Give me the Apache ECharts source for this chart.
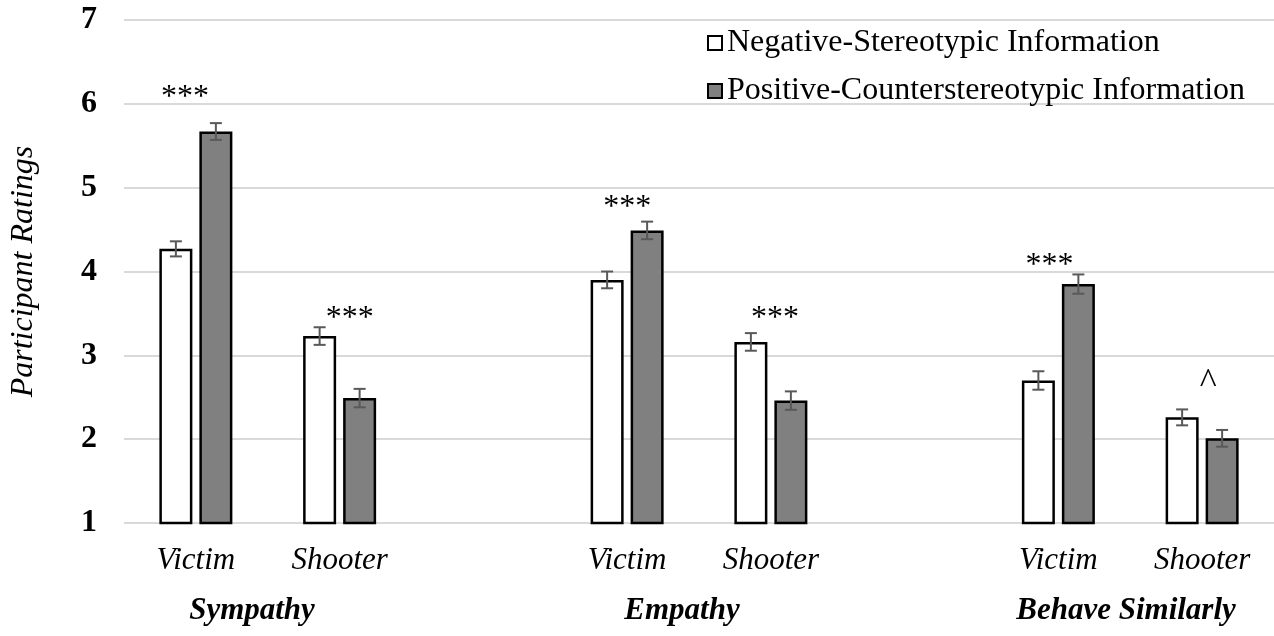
<!DOCTYPE html>
<html>
<head>
<meta charset="utf-8">
<script src="https://cdn.jsdelivr.net/npm/echarts@6/dist/echarts.min.js"></script>
<style>
html,body{margin:0;padding:0;background:#fff;}
#chart{width:1274px;height:636px;}
</style>
</head>
<body>
<div id="chart"></div>
<script>
// ---- data ----
const categories = ['Victim', 'Shooter', '', 'Victim', 'Shooter', '', 'Victim', 'Shooter'];
const negMeans = [4.27, 3.23, null, 3.90, 3.16, null, 2.70, 2.26];
const posMeans = [5.67, 2.49, null, 4.49, 2.46, null, 3.85, 2.01];
const negErr = [0.09, 0.105, null, 0.10, 0.105, null, 0.11, 0.095];
const posErr = [0.10, 0.11, null, 0.105, 0.11, null, 0.115, 0.10];
const sigLabels = ['***', '***', null, '***', '***', null, '***', '^'];
const sigY = [6.08, 3.44, null, 4.76, 3.44, null, 4.07, 2.66];
const groupLabels = ['Sympathy', 'Empathy', 'Behave Similarly'];
const seriesNames = ['Negative-Stereotypic Information', 'Positive-Counterstereotypic Information'];
const yMin = 1, yMax = 7, yStep = 1;

// ---- style constants ----
const FONT = "'Liberation Serif', 'Times New Roman', serif";
const BAR_W = 33, BAR_GAP_PX = 7;
const BAR_OFF = (BAR_W + BAR_GAP_PX) / 2;
const sigDx = [-11, 10, 0, 0, 4, 0, -9, 6];
const groupPos = [[252, 611], [682, 611], [1126, 611]];

const chart = echarts.init(document.getElementById('chart'), null, {renderer: 'canvas'});

function errData(means, errs) {
  const out = [];
  means.forEach((m, i) => { if (m != null) out.push([i, m - errs[i], m + errs[i]]); });
  return out;
}
function errRender(offset) {
  return function (params, api) {
    const i = api.value(0);
    const lo = api.coord([i, api.value(1)]);
    const hi = api.coord([i, api.value(2)]);
    const x = lo[0] + offset;
    const cap = 6;
    const st = {stroke: '#595959', lineWidth: 2};
    return {
      type: 'group',
      children: [
        {type: 'line', shape: {x1: x, y1: lo[1], x2: x, y2: hi[1]}, style: st},
        {type: 'line', shape: {x1: x - cap, y1: lo[1], x2: x + cap, y2: lo[1]}, style: st},
        {type: 'line', shape: {x1: x - cap, y1: hi[1], x2: x + cap, y2: hi[1]}, style: st}
      ]
    };
  };
}
const sigData = [];
sigLabels.forEach((t, i) => { if (t) sigData.push([i, sigY[i], t]); });

const option = {
  backgroundColor: '#ffffff',
  animation: false,
  grid: {left: 122, top: 20, bottom: 113, width: 1157, containLabel: false},
  legend: {
    orient: 'vertical',
    left: 702,
    top: 22,
    itemWidth: 14,
    itemHeight: 14,
    itemGap: 16,
    icon: 'rect',
    data: seriesNames,
    textStyle: {fontFamily: FONT, fontSize: 32, color: '#000', lineHeight: 32}
  },
  xAxis: {
    type: 'category',
    data: categories,
    axisTick: {show: false},
    axisLine: {show: false},
    axisLabel: {fontFamily: FONT, fontSize: 31, fontStyle: 'italic', color: '#000', margin: 22, interval: 0}
  },
  yAxis: {
    type: 'value',
    min: yMin, max: yMax, interval: yStep,
    name: 'Participant Ratings',
    nameLocation: 'middle',
    nameGap: 84,
    nameTextStyle: {fontFamily: FONT, fontSize: 32, fontStyle: 'italic', color: '#000'},
    axisLine: {show: false},
    axisTick: {show: false},
    axisLabel: {fontFamily: FONT, fontSize: 32, fontWeight: 'bold', color: '#000', margin: 27},
    splitLine: {lineStyle: {color: '#d9d9d9', width: 2}}
  },
  series: [
    {
      name: seriesNames[0], type: 'bar', barWidth: BAR_W, barGap: (BAR_GAP_PX / BAR_W * 100) + '%',
      data: negMeans.map(v => v == null ? '-' : v),
      itemStyle: {color: '#ffffff', borderColor: '#000000', borderWidth: 2.5}
    },
    {
      name: seriesNames[1], type: 'bar', barWidth: BAR_W,
      data: posMeans.map(v => v == null ? '-' : v),
      itemStyle: {color: '#808080', borderColor: '#000000', borderWidth: 2.5}
    },
    {type: 'custom', renderItem: errRender(-BAR_OFF), data: errData(negMeans, negErr), z: 5, silent: true},
    {type: 'custom', renderItem: errRender(BAR_OFF), data: errData(posMeans, posErr), z: 5, silent: true},
    {
      type: 'custom', z: 6, silent: true, data: sigData,
      renderItem: function (params, api) {
        const i = api.value(0);
        const p = api.coord([i, api.value(1)]);
        const isCaret = sigLabels[i] === '^';
        return {
          type: 'text',
          style: {
            x: p[0] + sigDx[i], y: p[1], text: sigLabels[i],
            align: 'center', verticalAlign: 'middle',
            font: (isCaret ? '36px ' : '32px ') + FONT, fill: '#000'
          }
        };
      }
    }
  ],
  graphic: groupLabels.map((t, k) => ({
    type: 'text',
    x: groupPos[k][0], y: groupPos[k][1],
    style: {text: t, align: 'center', verticalAlign: 'middle', font: 'italic bold 31px ' + FONT, fill: '#000'}
  }))
};
chart.setOption(option);
</script>
</body>
</html>
